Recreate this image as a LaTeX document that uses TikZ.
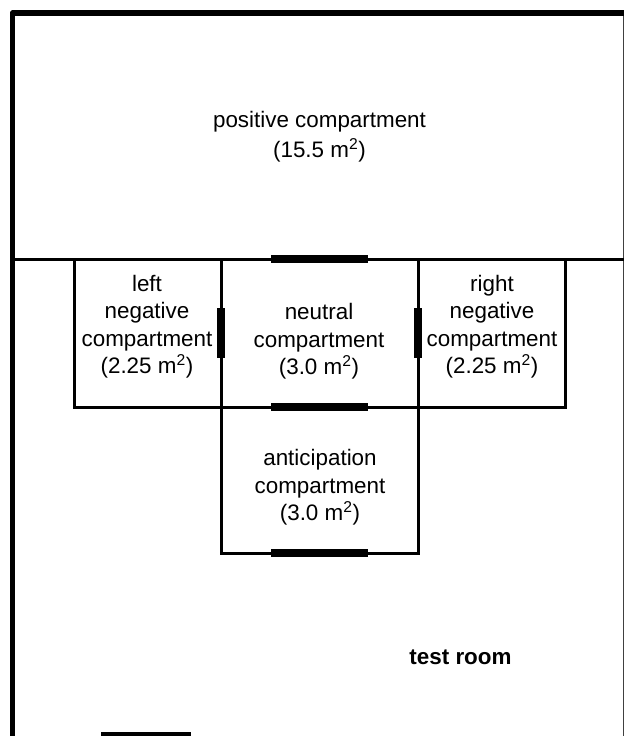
\documentclass[tikz,border=0pt]{standalone}
\usepackage{fontspec}
\setmainfont{Liberation Sans}
\tikzset{
  wall/.style={line width=2.25pt,black},
  outer/.style={line width=4.2pt,black,line join=round},
  door/.style={line width=6pt,black},
  edge/.style={line width=1pt,black!75},
  lbl/.style={align=center,inner sep=0pt,font=\fontsize{16.8}{20.6}\selectfont},
  lblb/.style={inner sep=0pt,font=\fontsize{16.8}{20.6}\selectfont\bfseries}
}
\newcommand{\sqm}[1]{(#1 m\textsuperscript{2})}
\begin{document}
\begin{tikzpicture}[x=0.75pt,y=-0.75pt]
\useasboundingbox (0,0) rectangle (624,736);
\fill[white] (0,0) rectangle (624,736);
% outer walls
\draw[edge] (623.3,13) -- (623.3,736);
\draw[outer] (12.5,736) -- (12.5,13) -- (624,13);
% partition line
\draw[wall] (12.5,259) -- (624,259);
% compartments
\draw[wall] (74,259) -- (74,407) -- (221,407);
\draw[wall] (565,259) -- (565,407) -- (418,407);
\draw[wall] (221,259) -- (221,553) -- (418,553) -- (418,259);
\draw[wall] (221,407) -- (418,407);
% doors
\draw[door] (271,259) -- (368,259);
\draw[door] (271,407) -- (368,407);
\draw[door] (271,553) -- (368,553);
\draw[door] (221,308) -- (221,358);
\draw[door] (418,308) -- (418,358);
\draw[door] (101,736) -- (191,736);
% labels
\node[lbl] (positive) at (319.5,136.5) {positive compartment\\[2pt]\sqm{15.5}};
\node[lbl] (left) at (147,326.5) {left\\negative\\compartment\\\sqm{2.25}};
\node[lbl] (neutral) at (319,341.5) {neutral\\compartment\\\sqm{3.0}};
\node[lbl] (right) at (492,326.5) {right\\negative\\compartment\\\sqm{2.25}};
\node[lbl] (anticipation) at (320,487.5) {anticipation\\compartment\\\sqm{3.0}};
\node[lblb] (testroom) at (460.5,657) {test room};
\end{tikzpicture}
\end{document}
